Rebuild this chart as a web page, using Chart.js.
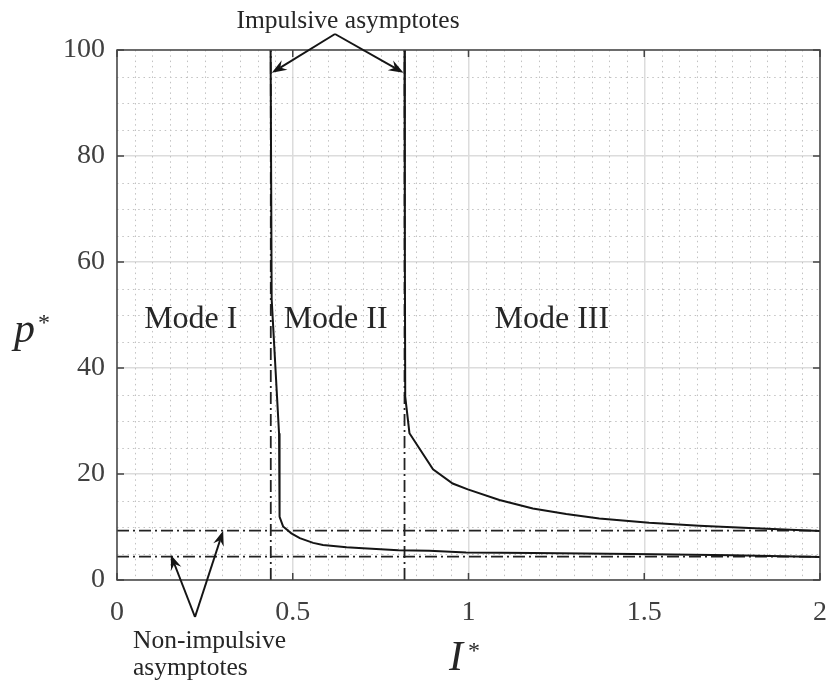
<!DOCTYPE html>
<html>
<head>
<meta charset="utf-8">
<script src="https://cdn.jsdelivr.net/npm/chart.js@4.4.1/dist/chart.umd.min.js"></script>
<style>
  html, body { margin: 0; padding: 0; background: #fff; }
  canvas { display: block; }
</style>
</head>
<body>
<canvas id="modeChart" width="827" height="683"></canvas>
<script>
// tick labels
const xTickValues = [0, 0.5, 1, 1.5, 2];
const yTickValues = [0, 20, 40, 60, 80, 100];

// Mode I / Mode II boundary
const boundaryAX = [0.437, 0.440, 0.461, 0.462, 0.463, 0.4725, 0.496, 0.520, 0.558, 0.586, 0.653, 0.700, 0.800, 0.889, 0.993, 1.183, 1.467, 1.751, 2.0];
const boundaryAY = [100, 53, 27.7, 20, 11.9, 10.1, 8.8, 7.9, 7.0, 6.6, 6.2, 6.0, 5.6, 5.5, 5.2, 5.1, 4.9, 4.65, 4.35];

// Mode II / Mode III boundary
const boundaryBX = [0.818, 0.819, 0.820, 0.832, 0.899, 0.955, 0.998, 1.088, 1.183, 1.278, 1.372, 1.514, 1.656, 1.798, 2.0];
const boundaryBY = [100, 60, 34.6, 27.7, 20.9, 18.2, 17.1, 15.1, 13.5, 12.45, 11.6, 10.8, 10.25, 9.8, 9.25];

// asymptotes
const impulsiveX = [0.4375, 0.818];
const nonImpulsiveY = [9.3, 4.4];

// region labels
const modeLabels = ["Mode I", "Mode II", "Mode III"];
const modeLabelX = [0.21, 0.622, 1.237];
const modeLabelY = 47.5;

const serif = "'Liberation Serif', 'Times New Roman', serif";
const toPoints = (xs, ys) => xs.map((x, i) => ({ x: x, y: ys[i] }));

const curveStyle = { borderColor: "#151515", borderWidth: 2, pointRadius: 0, showLine: true, fill: false, tension: 0 };
const asymStyle = { borderColor: "#222", borderWidth: 1.8, borderDash: [12, 4, 2, 4], pointRadius: 0, showLine: true, fill: false };

const datasets = [
    Object.assign({ data: toPoints(boundaryAX, boundaryAY) }, curveStyle),
    Object.assign({ data: toPoints(boundaryBX, boundaryBY) }, curveStyle)
];
impulsiveX.forEach(v => datasets.push(Object.assign({ data: [{ x: v, y: 0 }, { x: v, y: 100 }] }, asymStyle)));
nonImpulsiveY.forEach(v => datasets.push(Object.assign({ data: [{ x: 0, y: v }, { x: 2, y: v }] }, asymStyle)));

function arrow(ctx, x0, y0, x1, y1) {
    const a = Math.atan2(y1 - y0, x1 - x0);
    const len = 15, half = 5.5, notch = 10;
    ctx.beginPath();
    ctx.moveTo(x0, y0);
    ctx.lineTo(x1 - Math.cos(a) * notch, y1 - Math.sin(a) * notch);
    ctx.stroke();
    ctx.beginPath();
    ctx.moveTo(x1, y1);
    ctx.lineTo(x1 - Math.cos(a) * len - Math.sin(a) * half, y1 - Math.sin(a) * len + Math.cos(a) * half);
    ctx.lineTo(x1 - Math.cos(a) * notch, y1 - Math.sin(a) * notch);
    ctx.lineTo(x1 - Math.cos(a) * len + Math.sin(a) * half, y1 - Math.sin(a) * len - Math.cos(a) * half);
    ctx.closePath();
    ctx.fill();
}

const decor = {
    id: "decor",
    beforeDatasetsDraw(chart) {
        const { ctx, chartArea: a, scales: { x, y } } = chart;
        ctx.save();
        ctx.strokeStyle = "#c2c2c2";
        ctx.lineWidth = 1;
        ctx.setLineDash([1.5, 3.8]);
        for (let i = 1; i < 40; i++) {
            if (i % 10 === 0) continue;
            const px = Math.round(x.getPixelForValue(i * 0.05)) + 0.5;
            ctx.beginPath(); ctx.moveTo(px, a.top); ctx.lineTo(px, a.bottom); ctx.stroke();
        }
        for (let i = 1; i < 20; i++) {
            if (i % 4 === 0) continue;
            const py = Math.round(y.getPixelForValue(i * 5)) + 0.5;
            ctx.beginPath(); ctx.moveTo(a.left, py); ctx.lineTo(a.right, py); ctx.stroke();
        }
        ctx.restore();
    },
    afterDatasetsDraw(chart) {
        const { ctx, chartArea: a, scales: { x, y } } = chart;
        ctx.save();
        // box and inward ticks
        ctx.strokeStyle = "#444";
        ctx.lineWidth = 1.5;
        ctx.strokeRect(a.left, a.top, a.right - a.left, a.bottom - a.top);
        ctx.beginPath();
        xTickValues.forEach(v => {
            const px = x.getPixelForValue(v);
            ctx.moveTo(px, a.bottom); ctx.lineTo(px, a.bottom - 7);
            ctx.moveTo(px, a.top); ctx.lineTo(px, a.top + 7);
        });
        yTickValues.forEach(v => {
            const py = y.getPixelForValue(v);
            ctx.moveTo(a.left, py); ctx.lineTo(a.left + 7, py);
            ctx.moveTo(a.right, py); ctx.lineTo(a.right - 7, py);
        });
        ctx.stroke();

        // mode labels
        ctx.fillStyle = "#262626";
        ctx.font = "32px " + serif;
        ctx.textAlign = "center";
        ctx.textBaseline = "alphabetic";
        modeLabels.forEach((t, i) => ctx.fillText(t, x.getPixelForValue(modeLabelX[i]), y.getPixelForValue(modeLabelY)));

        // annotations
        ctx.font = "25.5px " + serif;
        ctx.fillText("Impulsive asymptotes", 348, 28);
        ctx.textAlign = "left";
        ctx.fillText("Non-impulsive", 133, 648);
        ctx.fillText("asymptotes", 133, 675);

        ctx.strokeStyle = "#151515";
        ctx.fillStyle = "#151515";
        ctx.lineWidth = 2;
        ctx.setLineDash([]);
        arrow(ctx, 335, 34, x.getPixelForValue(impulsiveX[0]) + 1, y.getPixelForValue(95.7));
        arrow(ctx, 335, 34, x.getPixelForValue(impulsiveX[1]) - 1, y.getPixelForValue(95.7));
        arrow(ctx, 195, 617, x.getPixelForValue(0.153), y.getPixelForValue(nonImpulsiveY[1]) - 2);
        arrow(ctx, 195, 617, x.getPixelForValue(0.302), y.getPixelForValue(nonImpulsiveY[0]));

        // axis titles
        ctx.fillStyle = "#262626";
        ctx.font = "italic 42px " + serif;
        ctx.fillText("p", 14, 342);
        ctx.fillText("I", 449, 670);
        ctx.font = "24px " + serif;
        ctx.fillText("*", 38, 330);
        ctx.fillText("*", 468, 658);
        ctx.restore();
    }
};

new Chart(document.getElementById("modeChart").getContext("2d"), {
    type: "scatter",
    data: { datasets: datasets },
    options: {
        responsive: false,
        animation: false,
        layout: { padding: { top: 50, right: 7, left: 0, bottom: 0 } },
        scales: {
            x: {
                type: "linear",
                min: 0,
                max: 2,
                afterBuildTicks: s => { s.ticks = xTickValues.map(v => ({ value: v })); },
                afterFit: s => { s.height = 103; s.paddingLeft = 0; s.paddingRight = 0; },
                ticks: { color: "#404040", font: { family: serif, size: 28 }, padding: 16, maxRotation: 0, callback: v => String(v) },
                grid: { color: "#dcdcdc", lineWidth: 1.5, drawTicks: false },
                border: { display: false }
            },
            y: {
                type: "linear",
                min: 0,
                max: 100,
                afterBuildTicks: s => { s.ticks = yTickValues.map(v => ({ value: v })); },
                afterFit: s => { s.width = 117; s.paddingTop = 0; s.paddingBottom = 0; },
                ticks: { color: "#404040", font: { family: serif, size: 28 }, padding: 12, callback: v => String(v) },
                grid: { color: "#dcdcdc", lineWidth: 1.5, drawTicks: false },
                border: { display: false }
            }
        },
        plugins: {
            legend: { display: false },
            tooltip: { enabled: false }
        }
    },
    plugins: [decor]
});
</script>
</body>
</html>
